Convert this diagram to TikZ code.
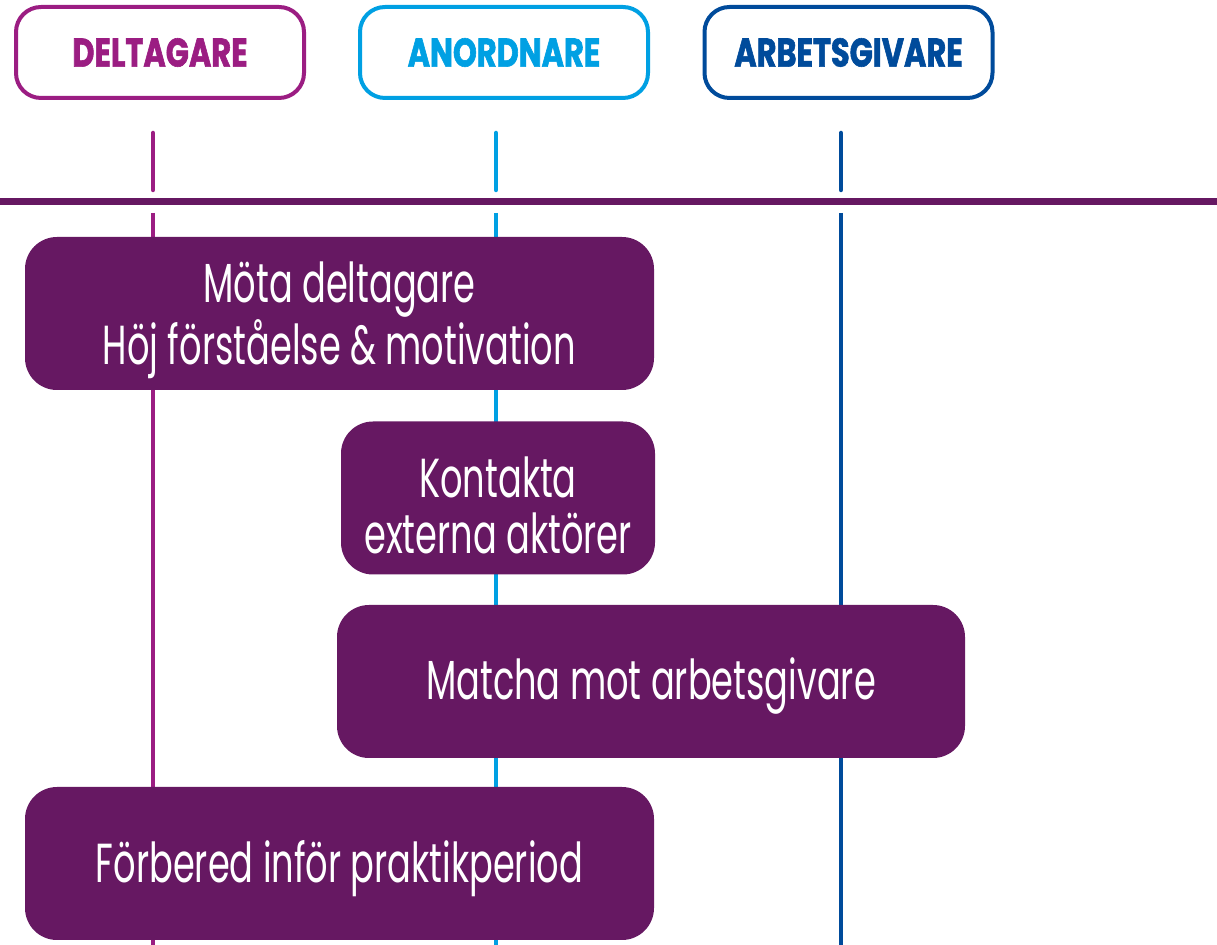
\documentclass[tikz,border=0pt]{standalone}
\usepackage{fontspec}
\newfontfamily\bodyfont{Poppins}[FakeStretch=0.64]
\newfontfamily\headfont{Poppins}[FakeStretch=0.76, BoldFeatures={FakeBold=1.5}]
\definecolor{delc}{HTML}{9B1D82}
\definecolor{anoc}{HTML}{00A0E3}
\definecolor{arbc}{HTML}{004B9B}
\definecolor{boxc}{HTML}{661862}
\begin{document}
\begin{tikzpicture}[x=0.5pt,y=-0.5pt,
  hdr/.style={draw, line width=2pt, rounded corners=12.5pt, minimum width=144pt, minimum height=45.5pt, fill=white, inner sep=0pt, font=\headfont\bfseries\fontsize{20}{24}\selectfont},
  stepbox/.style={fill=boxc, rounded corners=16pt, inner sep=0pt, minimum height=76.5pt},
  steptext/.style={text=white, align=center, inner sep=0pt, font=\bodyfont\fontsize{27.5}{28}\selectfont},
  life/.style={line width=2.25pt}
]
\useasboundingbox (0,0) rectangle (1217,945);
% header nodes
\node[hdr, draw=delc, text=delc] (h1) at (160,52.5) {DELTAGARE};
\node[hdr, draw=anoc, text=anoc] (h2) at (504,52.5) {ANORDNARE};
\node[hdr, draw=arbc, text=arbc] (h3) at (848.5,52.5) {ARBETSGIVARE};
% lifeline coordinates
\coordinate (t1) at (153,133); \coordinate (m1) at (153,190); \coordinate (n1) at (153,213); \coordinate (b1) at (153,945);
\coordinate (t2) at (496,133); \coordinate (m2) at (496,190); \coordinate (n2) at (496,213); \coordinate (b2) at (496,945);
\coordinate (t3) at (841,133); \coordinate (m3) at (841,190); \coordinate (n3) at (841,213); \coordinate (b3) at (841,945);
\draw[life, delc, line cap=round] (t1) -- (m1);
\draw[life, anoc, line cap=round] (t2) -- (m2);
\draw[life, arbc, line cap=round] (t3) -- (m3);
\draw[life, delc] (n1) -- (b1);
\draw[life, anoc] (n2) -- (b2);
\draw[life, arbc] (n3) -- (b3);
% horizontal divider
\coordinate (hl) at (0,202); \coordinate (hr) at (1217,202);
\draw[line width=3.5pt, boxc] (hl) -- (hr);
% step boxes
\node[stepbox, minimum width=314.5pt] (s1) at (339.5,313.5) {};
\node[stepbox, minimum width=157pt] (s2) at (498,498) {};
\node[stepbox, minimum width=314pt] (s3) at (651,681.5) {};
\node[stepbox, minimum width=314.5pt] (s4) at (339.5,863.5) {};
\node[steptext] (s1t) at ([yshift=-3.5pt]s1.center) {Möta deltagare\\Höj förståelse \& motivation};
\node[steptext] (s2t) at ([yshift=-3.5pt]s2.center) {Kontakta\\externa aktörer};
\node[steptext] (s3t) at ([yshift=-2.5pt]s3.center) {Matcha mot arbetsgivare};
\node[steptext] (s4t) at ([yshift=-2.5pt]s4.center) {Förbered inför praktikperiod};
\end{tikzpicture}
\end{document}
